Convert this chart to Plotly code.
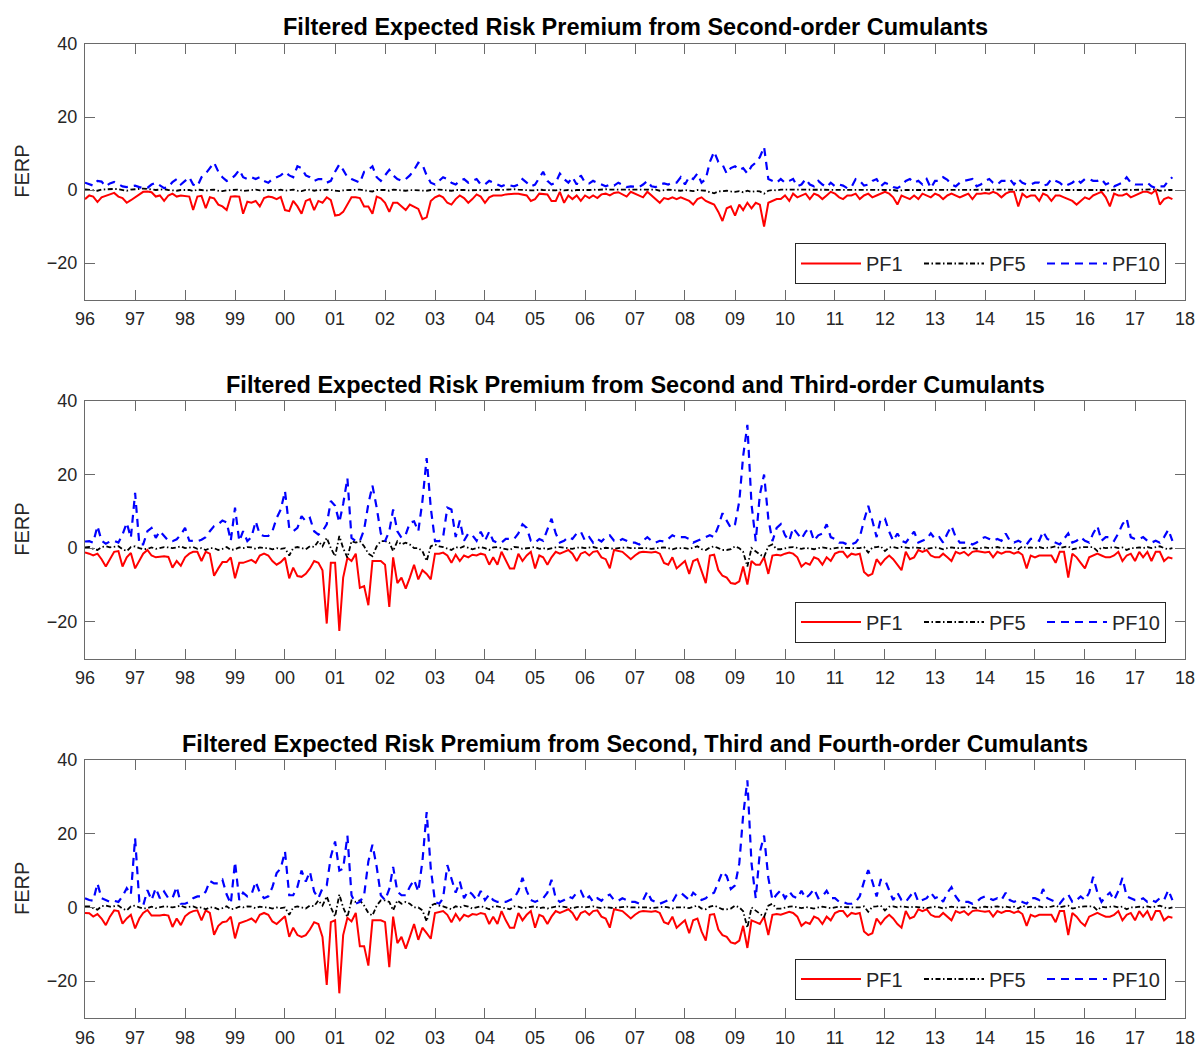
import pandas as pd
import plotly.graph_objects as go

# Monthly observation dates, Jan 1996 - Oct 2017
months = pd.date_range("1996-01-01", periods=262, freq="MS")

# ---------- Second-order cumulants ----------
p1_pf1 = [
    -2.5, -1.5, -1.8, -3.3, -2, -1.5, -1.2, -0.8, -1.8, -2.2, -3.5, -2.8,
    -2, -1.2, -0.5, -0.4, -0.6, -1.8, -1.5, -3, -1.5, -1, -1.8, -1.5,
    -1.6, -1.8, -5.5, -1.8, -1.6, -5, -2, -2.3, -4, -4.5, -5.5, -1.8,
    -1.7, -1.8, -6.5, -3.2, -3.5, -3, -4.5, -2.2, -1.8, -2, -2.5, -1.9,
    -5.5, -5.8, -3, -4.5, -6.5, -3, -2.5, -5.5, -3, -3.5, -2, -2.8,
    -7, -6.8, -6, -4, -2, -2, -2.2, -4.5, -4.5, -6.5, -1.8, -2.3,
    -3.5, -6, -3.5, -3.5, -4.5, -5.5, -4, -4.5, -5.2, -8, -7.5, -3,
    -2, -1.5, -2, -3.5, -4, -2.5, -1.5, -2.2, -3.5, -2.5, -1.2, -1.8,
    -3.5, -2, -1.5, -1.5, -1.5, -1.2, -1, -1, -1, -1.2, -1.5, -3,
    -2.5, -1, -1, -1.2, -3, -3, -0.5, -3.5, -1.5, -2.5, -1.5, -3,
    -1.5, -2.2, -1.5, -2.2, -1.2, -1, -1.5, -0.8, -0.6, -1.2, -1.8, -0.5,
    -1, -1.5, -2, -0.5, -1.5, -2.5, -3.5, -2.2, -2.5, -2, -2.5, -2,
    -2.5, -3, -4, -2.5, -2, -3, -3.5, -4, -6, -8.5, -5, -4.5,
    -7, -4, -5.5, -3.5, -5, -3.5, -4, -10, -3.5, -3, -2.5, -2.5,
    -1.5, -3, -1, -2, -1.5, -1, -2.5, -1, -1.5, -2.5, -1.5, -0.5,
    -1, -2, -2.5, -1.5, -1.5, -1, -2.5, -1.5, -1, -2, -1.5, -1,
    -0.5, -1, -2, -4, -1.5, -2, -2.5, -1.5, -2.5, -1, -1.5, -2,
    -1, -1.5, -2.5, -1.5, -1, -1.5, -2, -1.5, -1, -2.5, -1, -1,
    -0.8, -1, -0.5, -1, -2, -1, -0.5, -0.5, -4.5, -1, -2, -1.5,
    -1.5, -3, -1, -1.5, -3, -1.5, -1.5, -2, -2.5, -3, -4, -3,
    -2, -2.5, -1.5, -1, -0.5, -2, -4.5, -1, -1.5, -1.5, -1, -2,
    -1.5, -1, -0.5, -0.5, -1, 0, -4, -2.5, -2, -2.5,
]
p1_pf5 = [
    0.2, 0.1, 0.0, -0.2, 0.1, 0.2, 0.1, 0.3, 0.2, 0.0, -0.2, 0.1,
    0.1, 0.3, 0.4, 0.2, 0.1, 0.0, 0.1, 0.2, 0.0, -0.1, -0.2, 0.0,
    0.1, 0.0, -0.3, 0.1, 0.0, -0.2, 0.0, 0.1, -0.2, -0.3, -0.1, 0.0,
    0.0, 0.1, -0.3, -0.1, 0.0, 0.1, -0.1, 0.0, 0.1, 0.0, -0.1, 0.1,
    -0.2, -0.1, 0.1, -0.2, -0.3, 0.0, 0.1, -0.2, 0.0, -0.1, 0.1, 0.0,
    -0.2, -0.3, -0.1, 0.0, 0.1, 0.0, 0.1, -0.1, -0.2, -0.4, 0.0, 0.1,
    0.0, -0.2, 0.1, 0.0, -0.1, -0.2, 0.0, -0.1, -0.2, -0.3, -0.2, 0.0,
    0.1, 0.1, 0.0, -0.1, -0.2, 0.0, 0.1, 0.0, -0.1, 0.0, 0.1, 0.0,
    -0.1, 0.0, 0.1, 0.1, 0.0, 0.1, 0.1, 0.2, 0.1, 0.0, 0.0, -0.1,
    -0.1, 0.1, 0.0, 0.0, -0.2, -0.1, 0.1, -0.1, 0.0, -0.2, 0.0, -0.1,
    0.0, 0.0, 0.1, 0.0, 0.1, 0.2, 0.1, 0.1, 0.2, 0.1, 0.0, 0.2,
    0.2, 0.1, 0.1, 0.1, 0.0, 0.1, -0.2, 0.0, 0.1, 0.0, -0.1, -0.2,
    0.0, -0.2, -0.3, 0.0, -0.1, -0.2, -0.6, -0.9, -0.4, -0.3, -0.2, -0.4,
    -0.5, -0.3, -0.6, -0.2, -0.5, -0.3, -0.4, -1.0, -0.2, 0.0, -0.1, 0.1,
    0.1, 0.0, 0.1, 0.0, 0.0, 0.1, 0.0, 0.1, 0.0, 0.1, 0.1, 0.0,
    0.0, 0.1, 0.0, 0.0, 0.1, 0.0, 0.0, 0.1, 0.0, 0.0, 0.1, 0.0,
    0.1, 0.0, 0.0, -0.2, 0.0, 0.0, 0.0, 0.1, 0.0, 0.0, 0.0, 0.0,
    0.0, 0.0, -0.1, 0.0, 0.1, 0.0, 0.0, 0.0, 0.1, 0.0, 0.0, 0.1,
    0.1, 0.0, 0.1, 0.1, 0.0, 0.0, 0.1, 0.1, -0.2, 0.1, 0.0, 0.0,
    0.1, 0.0, 0.0, 0.1, 0.0, 0.0, 0.1, 0.0, 0.0, -0.1, -0.1, 0.0,
    0.0, 0.0, 0.1, 0.1, 0.0, 0.0, -0.2, 0.1, 0.0, 0.1, 0.1, 0.0,
    0.0, 0.1, 0.1, 0.1, 0.0, 0.2, -0.2, 0.0, 0.0, 0.0,
]
p1_pf10 = [
    2, 1.5, 1.2, 2.5, 2.3, 1, 1.8, 2.2, 1.5, 1, 0.8, 1,
    1.2, 0.8, 0.5, 0.6, 1.5, 2, 1.2, 0.5, 0.8, 2.2, 3, 1.5,
    2.5, 3.5, 1.5, 1, 3.5, 4.5, 6, 7.5, 5, 3.5, 2.5, 3,
    4, 5.5, 3.5, 3, 3.5, 3, 3.5, 2.5, 2, 3, 3.5, 4,
    5, 4, 3.5, 6.5, 6, 4, 3.5, 2.5, 3, 3, 2, 2.5,
    5, 7, 5.5, 3.5, 3, 2.5, 2, 5, 5.5, 6.5, 3.5, 2.5,
    4, 5.5, 4, 3, 2.5, 3, 4, 5.5, 7.5, 7, 4, 2,
    1.5, 2.5, 3.5, 3, 2, 1.5, 2.5, 3, 2, 2.5, 3, 1.5,
    1.5, 2.5, 2, 1.5, 1, 1.5, 1.2, 1, 1.5, 3, 2, 1,
    1.5, 3.5, 5, 2.5, 1.5, 2, 4.5, 3, 2, 3.5, 1.5, 4,
    2, 1.8, 2.5, 2, 1.5, 1, 1.5, 1.2, 2, 1.5, 0.8, 1,
    1, 0.8, 1.5, 2.5, 1, 0.8, 1.5, 1.8, 1.5, 2, 2, 3.5,
    1.5, 3.6, 3, 4.5, 2, 3, 7.7, 10.5, 7.7, 7, 4.5, 6,
    6.5, 5.5, 6, 4.5, 6.5, 7.5, 9, 11.8, 3, 2.5, 2, 3,
    2, 2.5, 3, 1, 1.5, 3, 1.5, 1, 2.5, 1.5, 0.8, 2,
    1, 1.5, 1.2, 0.5, 0.8, 3, 2.5, 1.2, 1.5, 2.5, 3, 1,
    2, 1.5, 0.8, 0.5, 1.2, 2.5, 3, 2, 2.5, 1.5, 3, 0.5,
    2.5, 2.5, 3.5, 2.8, 1.5, 1, 2, 2.5, 2.8, 3, 1, 1.5,
    2.5, 3, 2, 1.5, 2.5, 2.5, 3, 1.5, 3, 2, 1.5, 1.5,
    2, 2, 1.2, 1.5, 3, 2.5, 2, 1, 1.5, 2, 3, 2,
    3, 3, 2.5, 2.5, 3, 1.5, 2, 1, 1.5, 2, 3.5, 2,
    1.5, 1.5, 1.5, 2, 1, 0.5, 1, 1, 2.5, 3.5,
]

# ---------- Second and third-order cumulants ----------
p2_pf1 = [
    -1.2, -1.5, -2, -1.5, -3, -5, -3, -1, -0.8, -5, -2.5, -1.3,
    -5.5, -3.5, -1.5, -0.5, -2, -2.5, -2.3, -2.2, -2.4, -5.3, -3.5, -4.8,
    -2.5, -1.5, -1, -1, -3.5, -1, -1.5, -7.5, -5.5, -3.8, -3.8, -2.5,
    -8.2, -4, -4, -3.5, -3.2, -4, -2, -1.5, -2, -3.5, -4.5, -3.8,
    -2.6, -8.2, -5.3, -7.6, -7.8, -7, -5.5, -3.5, -4, -6, -20.5, -4,
    -4, -22.5, -8, -2.6, -3.5, -1.5, -10.8, -10.3, -15.5, -3.5, -3.5, -3.5,
    -4.5, -16, -2.5, -9.5, -8, -11, -8, -4.5, -8.5, -6, -7, -8.5,
    -1.5, -1.5, -1.2, -2, -4, -1.8, -3.5, -2, -2.5, -1.8, -2, -1.5,
    -1.8, -4.5, -2.5, -4.5, -1, -3.5, -5.5, -5.5, -1.5, -3.5, -2, -1,
    -5.5, -2, -2.5, -4.5, -2.5, -1, -1.5, -1, -0.5, -1.5, -3.5, -1.5,
    -1, -2, -1, -0.8, -2.5, -3, -5.5, -0.5, -0.8, -1, -2, -3,
    -2, -1.2, -1, -1.2, -1.2, -1, -1.5, -4, -4.5, -2.5, -5.5, -4.5,
    -3.5, -7, -3.5, -3, -6, -9.5, -2, -1.8, -6, -7.5, -8, -9.5,
    -9.7, -9, -5, -9.9, -3.5, -4.5, -4.5, -2.5, -7, -2, -1.8, -2,
    -1.5, -1.2, -1.5, -2.5, -5, -4, -4.5, -2.5, -3, -4.5, -2.5, -3.5,
    -1.5, -1, -1, -2.5, -1.5, -1.8, -1.5, -6.5, -7.5, -7, -3, -4.5,
    -3, -2, -3, -4.5, -6, -1, -3, -2.5, -0.5, -1, -0.5, -2,
    -2.5, -2.5, -1.5, -2.5, -3.5, -1, -1.5, -1, -2, -1, -0.8, -1,
    -1.2, -1, -2.5, -1, -1.5, -1, -1, -1.5, -1, -1.8, -5.5, -2,
    -2.5, -2, -2, -2, -2, -4, -1, -1, -8, -1.5, -2.5, -4,
    -5.5, -2.5, -2, -1.5, -2, -2.5, -2.5, -2, -1, -3.5, -2, -1.5,
    -3.5, -1, -2.5, -1, -3.5, -1, -1, -3.5, -2.5, -2.8,
]
p2_pf5 = [
    0.2, 0.3, -0.2, -0.5, 0.3, 0.5, 0.2, 0.3, 0.5, -0.3, -0.8, 0.3,
    0.5, 0, -0.3, -0.2, 0.2, -0.2, 0, 0.3, 0.2, 0, 0.2, 0.5,
    0, 0.2, 0.3, -0.2, 0, -0.5, 0, 0, -0.5, -0.2, 0.3, -0.5,
    -0.3, 0.2, 0, 0.3, 0.2, -0.2, 0.2, 0, 0, -0.3, 0, -0.2,
    0, -2, 0, 0.3, 0, -0.3, 0.5, 0.3, 1.9, 0.5, 2.8, 0,
    -2.2, 3.3, 0, -2.6, 1.9, 1.5, 1.9, 0.5, -1.5, -2.2, 0.5, 1.9,
    1.9, 1.5, -0.8, 1.9, 1, 1.5, 1, 0, 0, -0.8, -3.5, 0.5,
    1, 0.5, 0.3, 0, -0.5, 0.3, 0, 0.5, 0.2, -0.3, 0, 0.3,
    0, -0.5, 0.2, 0.3, 0, -0.3, -0.5, 0.3, 0.2, -0.2, 0, 0.2,
    0.3, -0.2, 0, -0.3, 0, 0.2, 0.3, 0.1, 0, -0.2, 0.1, 0.2,
    0, 0.2, 0.3, 0, -0.2, 0.1, 0, -0.2, 0, 0.1, 0.2, 0,
    0, 0.1, 0.2, 0, -0.2, 0, 0.1, 0.2, 0, -0.3, 0, 0.1,
    0, -0.2, 0.2, 0.5, -0.3, -0.5, 0.2, 0.5, 0, -0.5, -0.5, -0.3,
    0.5, 0, -1, -5, 0, -1, -1.7, -2.4, 0.5, 1, -0.3, -0.3,
    0, 0.2, 0.3, 0, -0.2, 0.1, 0, -0.3, 0, 0.2, 0, -0.2,
    0, 0.2, 0.1, 0, 0.1, 0, 0, 0.3, -1.2, 0.2, 0.3, 0.5,
    -0.8, 0.2, 0.3, 0, 0.3, 0.2, 0, 0.2, 0.1, 0, -0.2, 0,
    0.2, 0, -0.3, 0, 0.2, 0, -0.1, 0, 0.2, 0, -0.2, 0,
    0.2, 0, 0.1, 0.3, 0, 0.2, 0, 0.2, -0.3, 0.5, 0, 0.2,
    0, 0.3, 0, 0, 0.2, 0.5, 0, 0.3, 0.5, -0.3, 0, 0.2,
    0.3, 0.2, 0.3, -0.8, 0.2, 0, 0.2, 0.3, 0, 0.2, -0.5, 0,
    0, 0.2, 0, 0.3, 0, 0.2, 0.5, 0, -0.3, 0,
]
p2_pf10 = [
    1.8, 1.9, 1.5, 6, 2, 1.2, 1.8, 2, 1.5, 3.7, 6.9, 2.8,
    15, 1, 1, 4.6, 5.5, 2.8, 4.6, 3.3, 2, 1.9, 2.4, 3.7,
    5.5, 2, 1.9, 1.9, 2.3, 3, 4.6, 6, 6.5, 7.5, 7, 2,
    11, 1.9, 4.6, 1.9, 3, 7.3, 3.7, 3.3, 3.3, 4.6, 8.2, 10.5,
    15.5, 5.5, 4.6, 5.5, 8.7, 7.3, 8.2, 4.6, 3.7, 4.6, 6.5, 12.8,
    11.5, 7, 12, 19, 2.8, 1.9, 1.9, 5, 12, 17, 11, 4,
    1.9, 4.6, 10.5, 4.6, 2.8, 3.7, 6.9, 7.3, 4.6, 12.8, 24.5, 11,
    1.9, 1.9, 3, 11, 10.5, 3, 7.5, 2, 4, 3.5, 2, 4.5,
    2, 4.5, 2, 1.5, 1.5, 2.5, 2.5, 2.5, 4, 6.5, 5.5, 2,
    1.5, 2.5, 2, 5, 8, 4, 1.5, 2, 3, 2.5, 4, 4.5,
    2, 3, 1.5, 2.5, 1.8, 3, 3.5, 2, 1.8, 2.5, 2, 1.5,
    1.5, 1, 2, 3, 2, 1.5, 2, 1.8, 2.5, 3.5, 3, 3,
    3, 2.5, 1.5, 2, 2.5, 3, 3.5, 3, 6, 9.5, 7.5, 5.5,
    6.5, 12.8, 25, 33.5, 12, 1.9, 14.5, 20, 8, 1.9, 5.5, 6.5,
    3.5, 2, 5.5, 4, 2.5, 4.5, 5.5, 2, 3.5, 4, 6.5, 3,
    2.5, 1.5, 1.5, 1, 1, 1.5, 3, 7.5, 11.5, 7.5, 3, 8,
    8, 4.5, 2, 4, 2, 1.5, 3, 4.5, 1.5, 2, 2.5, 4,
    2.5, 3, 1.5, 4, 6, 3, 1.5, 1.5, 1.5, 1, 1.5, 2.5,
    3, 2.5, 2, 2.5, 2, 4, 2, 1.5, 2, 1.5, 1, 2.5,
    2.5, 2, 4.5, 2.5, 2, 1.5, 1, 2.5, 4, 1.5, 2, 3,
    2, 1.5, 4, 6, 2, 3, 3, 2, 4, 6.5, 8, 3,
    2.5, 2.5, 3, 2, 1.5, 2, 1.5, 3, 5, 2,
]

# ---------- Second, third and fourth-order cumulants ----------
p3_pf1 = [
    -1.5, -1.6, -2.5, -1.8, -3, -4.8, -2.5, -0.8, -1, -4.4, -3, -2,
    -5.7, -3, -1.5, -0.7, -2.2, -2.3, -2.2, -2, -2.2, -5.3, -3, -4.8,
    -2.4, -1.5, -1, -0.8, -3.5, -0.8, -1.5, -7.4, -5, -4, -3.8, -2.5,
    -8.4, -4.3, -4, -3.5, -3, -4, -2, -1.5, -2, -3.8, -4.5, -3.5,
    -2.4, -8, -5.5, -7.5, -8, -7.5, -6, -4, -4.5, -8, -21, -4,
    -3.5, -23.3, -7.5, -2.8, -3.8, -1.5, -10.5, -10.5, -15.8, -3.5, -3.5, -3.5,
    -4, -16.2, -2.5, -9.7, -8, -11.2, -8, -4.5, -8.8, -5.5, -7, -8.5,
    -1.5, -1.3, -1, -2, -4, -1.8, -3.5, -2, -2.5, -1.8, -2, -1.5,
    -1.8, -4.5, -2.5, -4.5, -1, -3.5, -5.5, -5.5, -1.5, -3.5, -2, -1,
    -5.5, -2, -2.5, -4.5, -2.5, -1, -1.5, -1, -0.5, -1.5, -3.5, -1.5,
    -1, -2, -1, -0.8, -2.5, -3, -5.5, -0.5, -0.8, -1, -2, -3,
    -2, -1.2, -1, -1.2, -1.2, -1, -1.5, -4, -4.5, -2.5, -5.5, -4.5,
    -3.5, -7, -3.5, -3, -6.5, -9, -2, -1.8, -6, -7.5, -8, -9.5,
    -9.8, -9, -5, -11, -3.5, -4, -4.5, -2.5, -7.5, -2, -1.8, -2,
    -1.5, -1.2, -1.5, -2.5, -5, -4, -4.5, -2.5, -3, -4.5, -2.5, -3.5,
    -1.5, -1, -1, -2.5, -1.5, -1.8, -1.5, -6.5, -7.5, -7, -3, -4.5,
    -3, -2, -3, -4.5, -5.5, -1, -3, -2.5, -0.5, -1, -0.5, -2,
    -2.5, -2.5, -1.5, -2.5, -3.5, -1, -1.5, -1, -2, -1, -0.8, -1,
    -1.2, -1, -2.5, -1, -1.5, -1, -1, -1.5, -1, -1.8, -5, -2,
    -2.5, -2, -2, -2, -2, -4, -1, -1, -7.5, -1.5, -2.5, -4,
    -5, -2.5, -2, -1.5, -2, -2.5, -2.5, -2, -1, -3.5, -2, -1.5,
    -3.5, -1, -2.5, -1, -3.5, -1, -1, -3.5, -2.5, -2.8,
]
p3_pf5 = [
    0.3, 0.3, -0.2, -0.6, 0.3, 0.5, 0.2, 0.3, 0.5, -0.3, -0.8, 0.3,
    0.5, 0, -0.3, -0.2, 0.2, -0.2, 0, 0.3, 0.2, 0, 0.2, 0.5,
    0, 0.2, 0.3, -0.2, 0, -0.5, 0, 0, -0.5, -0.2, 0.3, -0.5,
    -0.3, 0.2, 0, 0.3, 0.2, -0.2, 0.2, 0, 0, -0.3, 0, -0.2,
    0, -2, 0, 0.3, 0, -0.3, 0.5, 0.3, 1.9, 0.5, 3, 0,
    -2.5, 3.5, 0, -2.6, 1.9, 1.5, 1.9, 0.5, -1.5, -2.2, 0.5, 1.9,
    1.9, 1.5, -0.8, 1.9, 1, 1.5, 1, 0, 0, -0.8, -3.8, 0.5,
    1, 0.5, 0.3, 0, -0.5, 0.3, 0, 0.5, 0.2, -0.3, 0, 0.3,
    0, -0.5, 0.2, 0.3, 0, -0.3, -0.5, 0.3, 0.2, -0.2, 0, 0.2,
    0.3, -0.2, 0, -0.3, 0, 0.2, 0.3, 0.1, 0, -0.2, 0.1, 0.2,
    0, 0.2, 0.3, 0, -0.2, 0.1, 0, -0.2, 0, 0.1, 0.2, 0,
    0, 0.1, 0.2, 0, -0.2, 0, 0.1, 0.2, 0, -0.3, 0, 0.1,
    0, -0.2, 0.2, 0.5, -0.3, -0.5, 0.2, 0.5, 0, -0.5, -0.5, -0.3,
    0.5, 0, -1, -5.5, 0, -1, -1.7, -2.6, 0.5, 1, -0.3, -0.3,
    0, 0.2, 0.3, 0, -0.2, 0.1, 0, -0.3, 0, 0.2, 0, -0.2,
    0, 0.2, 0.1, 0, 0.1, 0, 0, 0.3, -1.2, 0.2, 0.3, 0.5,
    -0.8, 0.2, 0.3, 0, 0.3, 0.2, 0, 0.2, 0.1, 0, -0.2, 0,
    0.2, 0, -0.3, 0, 0.2, 0, -0.1, 0, 0.2, 0, -0.2, 0,
    0.2, 0, 0.1, 0.3, 0, 0.2, 0, 0.2, -0.3, 0.5, 0, 0.2,
    0, 0.3, 0, 0, 0.2, 0.5, 0, 0.3, 0.5, -0.3, 0, 0.2,
    0.3, 0.2, 0.3, -0.8, 0.2, 0, 0.2, 0.3, 0, 0.2, -0.5, 0,
    0, 0.2, 0, 0.3, 0, 0.2, 0.5, 0, -0.3, 0,
]
p3_pf10 = [
    2.5, 2, 1.8, 6.5, 2.5, 2, 1.5, 1.8, 1.5, 3, 5.2, 3.5,
    18.8, 1.5, 0.5, 4.7, 2, 5.2, 2.5, 4.3, 2.5, 2.5, 5.6, 1,
    1, 1.5, 2.5, 3, 3, 4.3, 7.2, 6.5, 6.5, 7.5, 3.5, 1,
    12.3, 2, 4, 3, 3.5, 7, 4, 2.5, 3, 5.5, 9.3, 10.6,
    15.2, 3.3, 3.3, 5.6, 10, 7, 9.7, 4.3, 2.5, 5.2, 6, 13.8,
    17.9, 10, 10.5, 19.5, 3.3, 1, 1.5, 3.3, 12.5, 17, 11, 3.3,
    2, 5, 11, 4.3, 3.3, 3.3, 5.6, 7.5, 4.3, 12.5, 25.9, 10.6,
    1.5, 1, 2.5, 11.5, 8, 4, 7, 2.5, 4.5, 3.5, 2, 4.5,
    2, 3.5, 2, 1.5, 1.5, 1.5, 2, 2.5, 4.5, 8, 4.5, 2,
    1.5, 2, 2.5, 4, 7.5, 2.5, 1.5, 2, 3, 2.5, 4, 4.5,
    2, 3, 1.5, 2.5, 1.8, 3, 3.5, 2, 1.8, 2.5, 2, 1.5,
    1.5, 1, 2, 4.3, 2, 1.5, 1, 1.5, 2, 1.5, 3.5, 4,
    3, 2, 4, 3, 2, 2.5, 3.5, 4, 7, 9.7, 8.5, 5,
    6, 12, 25, 34.5, 12, 2.5, 15, 19.5, 8, 2, 3.5, 4.7,
    2.5, 4.3, 3, 2.5, 4.5, 2.5, 3.5, 5, 2.5, 3, 4.5, 2.5,
    2.5, 1.5, 1.5, 1, 1, 1.5, 3, 7, 10.1, 7, 3, 7.5,
    7.5, 4.5, 2, 4, 2, 1.5, 3, 4.5, 1.5, 2, 2.5, 4,
    2.5, 3, 1.5, 4, 5.5, 3, 1.5, 1.5, 1.5, 1, 1.5, 2.5,
    3, 2.5, 2, 2.5, 2, 4, 2, 1.5, 2, 1.5, 1, 2.5,
    2.5, 2, 5, 2.5, 2, 1.5, 1, 2.5, 3.5, 1.5, 2, 3,
    2, 4, 8.3, 4, 1.5, 3, 4, 2, 4.5, 8, 3, 2.5,
    2, 2, 2.5, 1.5, 2, 1.5, 2.5, 2, 4.7, 2,
]

panel_titles = [
    "Filtered Expected Risk Premium from Second-order Cumulants",
    "Filtered Expected Risk Premium from Second and Third-order Cumulants",
    "Filtered Expected Risk Premium from Second, Third and Fourth-order Cumulants",
]
series_names = ["PF1", "PF5", "PF10"]
y_ticks = [-20, 0, 20, 40]
panels = [
    (p1_pf1, p1_pf5, p1_pf10),
    (p2_pf1, p2_pf5, p2_pf10),
    (p3_pf1, p3_pf5, p3_pf10),
]

# ---------- layout geometry (figure px) ----------
W, H = 1199, 1049
ML, MR, MT, MB = 85, 14, 44, 31
PW = W - ML - MR
PH = H - MT - MB
def py(pix):                         # figure pixel row -> paper fraction
    return (H - MB - pix) / PH

panel_px = [(44, 299.5), (401, 658.5), (760, 1018)]
title_px = [27, 385, 744]
legend_mid_px = [263.5, 622, 979]

line_styles = [
    dict(color="#ff0000", width=2, dash="solid"),
    dict(color="#000000", width=1.8, dash="5px,2.5px,1.5px,2.5px"),
    dict(color="#0000ff", width=2.2, dash="8px,6px"),
]

FONT = "Liberation Sans, Arial, Helvetica, sans-serif"
AXIS_GREY = "#6a6a6a"

fig = go.Figure()
layout = dict(
    width=W, height=H,
    margin=dict(l=ML, r=MR, t=MT, b=MB, autoexpand=False),
    paper_bgcolor="white", plot_bgcolor="white",
    font=dict(family=FONT, color="#262626"),
    showlegend=True,
    annotations=[],
)

for k, (series, (top, bot)) in enumerate(zip(panels, panel_px)):
    sfx = "" if k == 0 else str(k + 1)
    xa, ya = "xaxis" + sfx, "yaxis" + sfx
    leg = "legend" + sfx
    for name, vals, st in zip(series_names, series, line_styles):
        fig.add_trace(go.Scatter(
            x=months, y=vals, mode="lines", name=name,
            line=st, xaxis="x" + sfx, yaxis="y" + sfx, legend=leg,
        ))
    common = dict(
        showline=True, linecolor=AXIS_GREY, linewidth=1, mirror="ticks",
        ticks="inside", ticklen=10, tickcolor=AXIS_GREY, tickwidth=1,
        showgrid=False, zeroline=False, automargin=False,
        tickfont=dict(family=FONT, size=18, color="#262626"),
    )
    layout[xa] = dict(
        common, type="date", anchor="y" + sfx, domain=[0, 1],
        range=["1996-01-01", "2018-01-01"], dtick="M12",
        tick0="1996-01-01", tickformat="%y", ticklabelstandoff=3,
    )
    layout[ya] = dict(
        common, anchor="x" + sfx, domain=[py(bot), py(top)],
        range=[-30, 40], tickvals=y_ticks, ticklabelstandoff=3,
    )
    layout[leg] = dict(
        orientation="h", xanchor="right", yanchor="middle",
        x=(1166 - ML) / PW, y=py(legend_mid_px[k]),
        bordercolor="#262626", borderwidth=1, bgcolor="white",
        font=dict(family=FONT, size=20, color="#262626"),
        itemwidth=60, tracegroupgap=0,
        entrywidth=48, entrywidthmode="pixels",
    )
    layout["annotations"].append(dict(
        text="<b>" + panel_titles[k] + "</b>", xref="paper", yref="paper",
        x=0.5, y=py(title_px[k]), xanchor="center", yanchor="middle",
        showarrow=False, font=dict(family=FONT, size=23.5, color="#000000"),
    ))
    layout["annotations"].append(dict(
        text="FERP", xref="paper", yref="paper", textangle=-90,
        x=(22 - ML) / PW, y=py((top + bot) / 2),
        xanchor="center", yanchor="middle", showarrow=False,
        font=dict(family=FONT, size=20, color="#262626"),
    ))

fig.update_layout(**layout)
fig.write_html("out.html")
